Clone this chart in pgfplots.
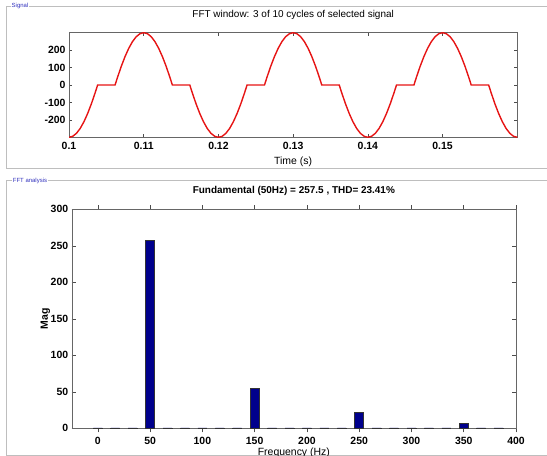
\documentclass[border=0pt]{standalone}
\usepackage{fontspec}
\setmainfont{Liberation Sans}
\usepackage{pgfplots}
\pgfplotsset{compat=1.18}

\definecolor{sigred}{RGB}{230,20,20}
\definecolor{barblue}{RGB}{0,0,140}
\definecolor{framegray}{RGB}{190,190,190}
\definecolor{guiblue}{RGB}{50,50,190}

\pgfplotsset{
  mlab/.style={
    scale only axis,
    axis line style={draw=black!60},
    tick align=inside,
    major tick length=4bp,
    tick style={black!70, line width=0.5bp},
    ticklabel style={font=\fontsize{10.5}{12}\selectfont\bfseries},
    /pgf/number format/assume math mode=true,
    xticklabel style={anchor=base, yshift=-12.5bp},
    label style={font=\fontsize{10.5}{12}\selectfont},
    xlabel style={at={(axis description cs:0.5,0)}, anchor=base, yshift=-27bp},
  },
}

\begin{document}
\begin{tikzpicture}
\useasboundingbox (0,0) rectangle (547bp,456bp);

% group boxes of the GUI
\draw[framegray, line width=0.8bp] (6.7bp,450bp) rectangle (560bp,288bp);
\draw[framegray, line width=0.8bp] (6.7bp,275.3bp) rectangle (560bp,1bp);
\node[fill=white, inner sep=1bp, text=guiblue, font=\fontsize{6}{7}\selectfont] at (20bp,450bp) {Signal};
\node[fill=white, inner sep=1bp, text=guiblue, font=\fontsize{6}{7}\selectfont] at (30bp,275.3bp) {FFT analysis};

% signal window
\begin{axis}[mlab,
  at={(69bp,318.7bp)}, anchor=south west,
  width=448.3bp, height=104.6bp,
  xmin=0.1, xmax=0.16, ymin=-298, ymax=298,
  xtick={0.1,0.11,0.12,0.13,0.14,0.15},
  xticklabels={0.1,0.11,0.12,0.13,0.14,0.15},
  ytick={-200,-100,0,100,200},
  major tick length=3bp,
  xlabel={Time (s)},
  title={FFT window: 3 of 10 cycles of selected signal},
  title style={at={(axis description cs:0.5,1)}, anchor=base, yshift=9bp,
    font=\fontsize{10}{12}\selectfont},
]
\addplot[sigred, line width=1.4bp] table {
t y
0.1000 -298.0
0.1005 -292.3
0.1010 -275.3
0.1015 -247.4
0.1020 -209.3
0.1025 -162.0
0.1030 -106.6
0.1035 -44.4
0.103833 0
0.106167 0
0.1065 44.4
0.1070 106.6
0.1075 162.0
0.1080 209.3
0.1085 247.4
0.1090 275.3
0.1095 292.3
0.1100 298.0
0.1105 292.3
0.1110 275.3
0.1115 247.4
0.1120 209.3
0.1125 162.0
0.1130 106.6
0.1135 44.4
0.113833 0
0.116167 0
0.1165 -44.4
0.1170 -106.6
0.1175 -162.0
0.1180 -209.3
0.1185 -247.4
0.1190 -275.3
0.1195 -292.3
0.1200 -298.0
0.1205 -292.3
0.1210 -275.3
0.1215 -247.4
0.1220 -209.3
0.1225 -162.0
0.1230 -106.6
0.1235 -44.4
0.123833 0
0.126167 0
0.1265 44.4
0.1270 106.6
0.1275 162.0
0.1280 209.3
0.1285 247.4
0.1290 275.3
0.1295 292.3
0.1300 298.0
0.1305 292.3
0.1310 275.3
0.1315 247.4
0.1320 209.3
0.1325 162.0
0.1330 106.6
0.1335 44.4
0.133833 0
0.136167 0
0.1365 -44.4
0.1370 -106.6
0.1375 -162.0
0.1380 -209.3
0.1385 -247.4
0.1390 -275.3
0.1395 -292.3
0.1400 -298.0
0.1405 -292.3
0.1410 -275.3
0.1415 -247.4
0.1420 -209.3
0.1425 -162.0
0.1430 -106.6
0.1435 -44.4
0.143833 0
0.146167 0
0.1465 44.4
0.1470 106.6
0.1475 162.0
0.1480 209.3
0.1485 247.4
0.1490 275.3
0.1495 292.3
0.1500 298.0
0.1505 292.3
0.1510 275.3
0.1515 247.4
0.1520 209.3
0.1525 162.0
0.1530 106.6
0.1535 44.4
0.153833 0
0.156167 0
0.1565 -44.4
0.1570 -106.6
0.1575 -162.0
0.1580 -209.3
0.1585 -247.4
0.1590 -275.3
0.1595 -292.3
0.1600 -298.0
};
\end{axis}

% spectrum
\begin{axis}[mlab,
  at={(71.7bp,27.7bp)}, anchor=south west,
  width=444.3bp, height=219bp,
  xmin=-25, xmax=400, ymin=0, ymax=300,
  xtick={0,50,...,400}, ytick={0,50,...,300},
  ybar, bar width=8.5,
  xlabel={Frequency (Hz)},
  ylabel={Mag},
  ylabel style={at={(axis description cs:-0.059,0.5)}, anchor=center,
    font=\fontsize{10.5}{12}\selectfont\bfseries},
  title={Fundamental (50Hz) = 257.5 , THD= 23.41\%},
  title style={at={(axis description cs:0.5,1)}, anchor=base, yshift=9.5bp,
    font=\fontsize{10}{12}\selectfont\bfseries},
]
\addplot[fill=barblue, draw=black!80, line width=0.7bp] coordinates {
  (0,0.5) (16.667,0.5) (33.333,0.5) (50,257.5) (66.667,0.5) (83.333,0.5)
  (100,0.5) (116.667,0.5) (133.333,0.5) (150,55.2) (166.667,0.5) (183.333,0.5)
  (200,0.5) (216.667,0.5) (233.333,0.5) (250,22.3) (266.667,0.5) (283.333,0.5)
  (300,0.5) (316.667,0.5) (333.333,0.5) (350,7.0) (366.667,0.5) (383.333,0.5)
};
\end{axis}
\end{tikzpicture}
\end{document}
